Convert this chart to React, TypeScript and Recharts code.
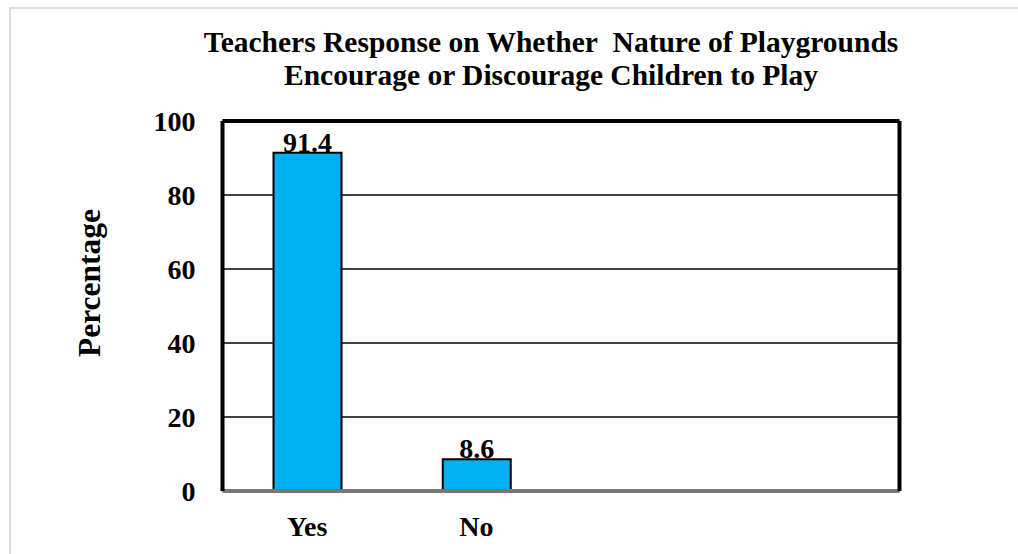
import { Bar, BarChart, CartesianGrid, LabelList, ReferenceLine, XAxis, YAxis } from "recharts"

const categories = ["Yes", "No", "", ""]
const percentages = [91.4, 8.6, null, null]
const yTicks = [0, 20, 40, 60, 80, 100]

const data = categories.map((name, i) => ({ name, value: percentages[i] }))

const serif = '"Liberation Serif", "Times New Roman", serif'
const tickStyle = { fontSize: 28, fontWeight: 700, fill: "#000", fontFamily: serif }

export default function App() {
  return (
    <div style={{ position: "relative", width: 1018, height: 554, overflow: "hidden", background: "#fff", fontFamily: serif }}>
      <style>{"body{margin:0}"}</style>
      <div style={{ position: "absolute", left: 9, top: 7, width: 1040, height: 580, border: "2px solid #dcdcdc" }} />
      <div
        style={{
          position: "absolute",
          left: 51,
          top: 25.5,
          width: 1000,
          textAlign: "center",
          fontSize: 29.5,
          fontWeight: 700,
          lineHeight: "33px",
          color: "#000",
        }}
      >
        Teachers Response on Whether&nbsp; Nature of Playgrounds
        <br />
        Encourage or Discourage Children to Play
      </div>
      <div
        style={{
          position: "absolute",
          left: 90,
          top: 283,
          transform: "translate(-50%, -50%) rotate(-90deg)",
          whiteSpace: "nowrap",
          fontSize: 31.5,
          fontWeight: 700,
          color: "#000",
        }}
      >
        Percentage
      </div>
      <div style={{ position: "absolute", left: 0, top: 0 }}>
        <BarChart width={1018} height={554} data={data} margin={{ top: 121, right: 116.5, bottom: 3, left: 0 }}>
          <CartesianGrid vertical={false} stroke="#000" strokeWidth={1.4} />
          <XAxis
            dataKey="name"
            height={60}
            tickLine={false}
            tickMargin={19}
            tick={tickStyle}
            axisLine={{ stroke: "#777", strokeWidth: 4 }}
            interval={0}
          />
          <YAxis
            width={222.5}
            domain={[0, 100]}
            ticks={yTicks}
            tickLine={false}
            tickMargin={21}
            tick={tickStyle}
            axisLine={{ stroke: "#000", strokeWidth: 4 }}
          />
          {/* right-hand frame edge of the plot */}
          <YAxis
            yAxisId="frame"
            orientation="right"
            width={2}
            domain={[0, 100]}
            tick={false}
            tickLine={false}
            axisLine={{ stroke: "#000", strokeWidth: 4 }}
          />
          <ReferenceLine y={100} stroke="#000" strokeWidth={4} />
          <Bar dataKey="value" fill="#00b0f0" stroke="#000" strokeWidth={2} barSize={68} isAnimationActive={false}>
            <LabelList dataKey="value" position="top" offset={1} style={tickStyle} />
          </Bar>
        </BarChart>
      </div>
    </div>
  )
}
